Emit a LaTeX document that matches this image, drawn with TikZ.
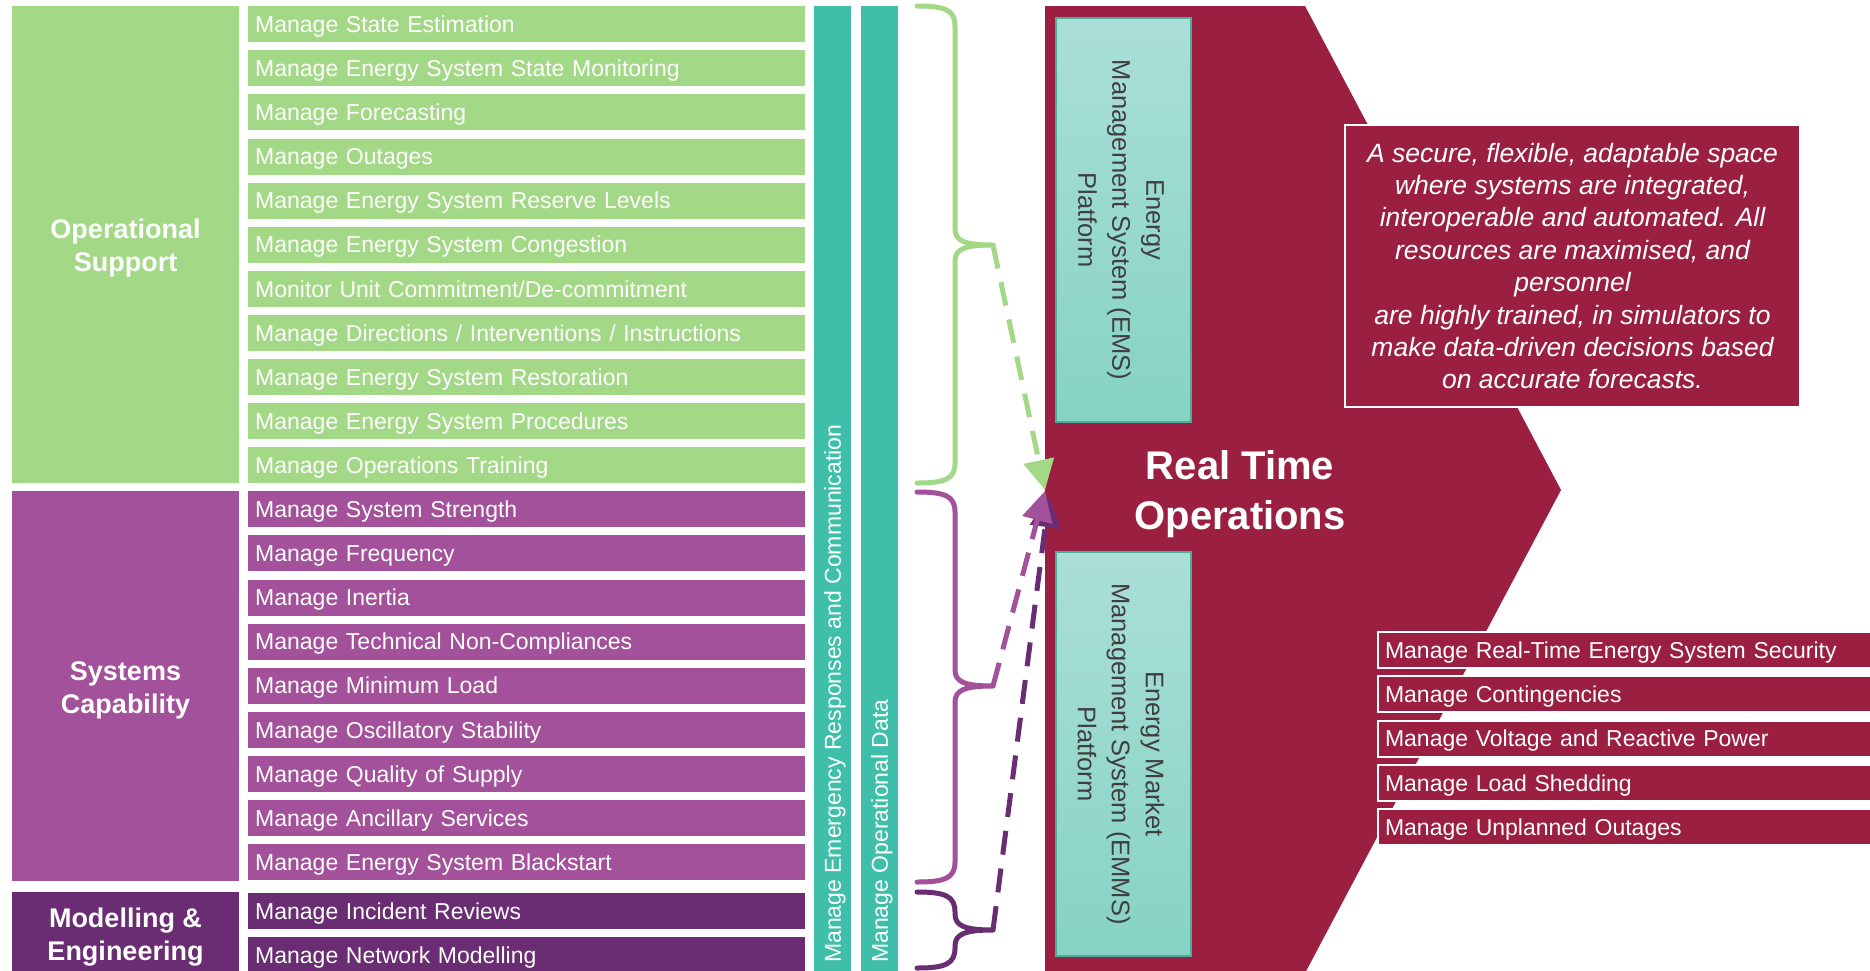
\documentclass[tikz,border=0pt]{standalone}
\usepackage{fontspec}
\setmainfont{Liberation Sans}
\usetikzlibrary{arrows.meta}
\definecolor{cgreen}{HTML}{A3D886}
\definecolor{cpurple}{HTML}{A2519A}
\definecolor{cdark}{HTML}{6A2C72}
\definecolor{cteal}{HTML}{3FBFAA}
\definecolor{cmaroon}{HTML}{9B1F41}
\definecolor{cemstop}{HTML}{AADFD7}
\definecolor{cemsbot}{HTML}{86D3C3}
\definecolor{cemsborder}{HTML}{4AAE9F}
\definecolor{cgraytext}{HTML}{3F3F3F}
\newcommand\curlyb[4]{%
  \draw[bracestyle,#1] (917,#2) .. controls (945,#2) and (955,{#2+4}) .. (955,{#2+20})
    -- (955,{#3-16}) .. controls (955,{#3-4}) and (965,#3) .. (993,#3)
    .. controls (965,#3) and (955,{#3+4}) .. (955,{#3+16})
    -- (955,{#4-20}) .. controls (955,{#4-4}) and (945,#4) .. (917,#4);}
\begin{document}
\begin{tikzpicture}[x=1pt,y=-1pt,
  itembox/.style={rectangle, anchor=north west, minimum width=557pt, minimum height=36pt,
    text width=543pt, inner xsep=7pt, inner ysep=0pt, align=left, text=white,
    font=\fontsize{23}{27}\selectfont, text height=19.5pt, text depth=3pt},
  ritem/.style={rectangle, anchor=north west, minimum width=520pt, minimum height=36pt,
    text width=506pt, inner xsep=7pt, inner ysep=0pt, align=left, text=white,
    fill=cmaroon, draw=white, line width=2pt,
    font=\fontsize{23}{27}\selectfont, text height=19.5pt, text depth=3pt},
  group/.style={rectangle, minimum width=227pt, inner sep=0pt, text=white, align=center,
    font=\bfseries\fontsize{27}{33}\selectfont},
  grouplabel/.style={inner sep=0pt, text=white, align=center,
    font=\bfseries\fontsize{27}{33}\selectfont},
  bar/.style={rectangle, anchor=north west, fill=cteal, minimum width=37pt,
    minimum height=975pt, inner sep=0pt},
  bartext/.style={rotate=90, anchor=west, text=white, inner sep=0pt,
    font=\fontsize{23}{27}\selectfont, text height=16.5pt, text depth=0pt},
  platform/.style={rectangle, draw=cemsborder, line width=1.5pt, top color=cemstop,
    bottom color=cemsbot, minimum width=135pt, minimum height=404pt, inner sep=0pt},
  plattext/.style={rotate=-90, align=center, text=cgraytext, inner sep=0pt,
    font=\fontsize{25.5}{34}\selectfont},
  bracestyle/.style={line width=5pt, line join=round, line cap=round},
  dashstyle/.style={line width=5pt, dash pattern=on 24pt off 14pt,
    -{Triangle[length=30pt,width=30pt]}},
]
\useasboundingbox (0,0) rectangle (1870,970);
\clip (0,0) rectangle (1870,970);
\fill[white] (0,0) rectangle (1870,970);

% left group columns
\node[group, fill=cgreen, minimum height=477pt] (opsup) at (125.5,244.5) {};
\node[group, fill=cpurple, minimum height=390pt] (syscap) at (125.5,686) {};
\node[group, fill=cdark, minimum height=86pt] (modeng) at (125.5,935) {};
\node[grouplabel] (opsupt) at (125.5,248.5) {Operational\\Support};
\node[grouplabel] (syscapt) at (125.5,690) {Systems\\Capability};
\node[grouplabel] (modengt) at (125.5,937) {Modelling \&\\Engineering};

% items
\foreach \t [count=\i from 0] in {Manage State Estimation, Manage Energy System State Monitoring,
  Manage Forecasting, Manage Outages, Manage Energy System Reserve Levels,
  Manage Energy System Congestion, Monitor Unit Commitment/De-commitment,
  Manage Directions / Interventions / Instructions, Manage Energy System Restoration,
  Manage Energy System Procedures, Manage Operations Training}
  \node[itembox, fill=cgreen] (g\i) at (248,{6+44.1*\i}) {\t};
\foreach \t [count=\i from 11] in {Manage System Strength, Manage Frequency, Manage Inertia,
  Manage Technical Non-Compliances, Manage Minimum Load, Manage Oscillatory Stability,
  Manage Quality of Supply, Manage Ancillary Services, Manage Energy System Blackstart}
  \node[itembox, fill=cpurple] (p\i) at (248,{6+44.1*\i}) {\t};
\node[itembox, fill=cdark] (m1) at (248,893) {Manage Incident Reviews};
\node[itembox, fill=cdark] (m2) at (248,937) {Manage Network Modelling};

% teal bars
\node[bar] (bar1) at (814,6) {};
\node[bar] (bar2) at (861,6) {};
\node[bartext] (bar1t) at (832.5,963) {Manage Emergency Responses and Communication};
\node[bartext] (bar2t) at (879.5,963) {Manage Operational Data};

% braces
\curlyb{cgreen}{6}{245}{483}
\curlyb{cpurple}{492}{686}{882}
\curlyb{cdark}{892}{930}{968}

% real time operations shape
\fill[cmaroon] (1045,6) -- (1305,6) -- (1561,490) -- (1304,975) -- (1045,975) -- cycle;
\node[platform] (ems) at (1123.5,220) {};
\node[plattext] (emst) at (1121,220) {Energy\\Management System (EMS)\\Platform};
\node[platform] (emms) at (1123.5,754) {};
\node[plattext] (emmst) at (1121,754) {Energy Market\\Management System (EMMS)\\Platform};
\node[text=white, align=center, inner sep=0pt, font=\bfseries\fontsize{40}{50}\selectfont]
  (rto) at (1240,494) {Real Time\\Operations};

% description
\node[rectangle, fill=cmaroon, draw=white, line width=2.5pt, minimum width=455pt,
  minimum height=282pt, inner sep=0pt, text=white, align=center,
  font=\itshape\fontsize{26.5}{32.4}\selectfont] (desc) at (1572.5,266)
  {A secure, flexible, adaptable space\\where systems are integrated,\\interoperable and automated. All\\resources are maximised, and\\personnel\\are highly trained, in simulators to\\make data-driven decisions based\\on accurate forecasts.};

% right items
\foreach \t [count=\i from 0] in {Manage Real-Time Energy System Security, Manage Contingencies,
  Manage Voltage and Reactive Power, Manage Load Shedding, Manage Unplanned Outages}
  \node[ritem] (r\i) at (1377,{631+44.3*\i}) {\t};

% arrows
\coordinate (gtip) at (993,245);
\coordinate (ptip) at (993,686);
\coordinate (dtip) at (993,930);
\coordinate (hitG) at (1045,490);
\coordinate (hitP) at (1045,491);
\coordinate (hitD) at (1049,497);
\draw[dashstyle, cdark] (dtip) -- (hitD);
\draw[dashstyle, cgreen] (gtip) -- (hitG);
\draw[dashstyle, cpurple] (ptip) -- (hitP);
\end{tikzpicture}
\end{document}
